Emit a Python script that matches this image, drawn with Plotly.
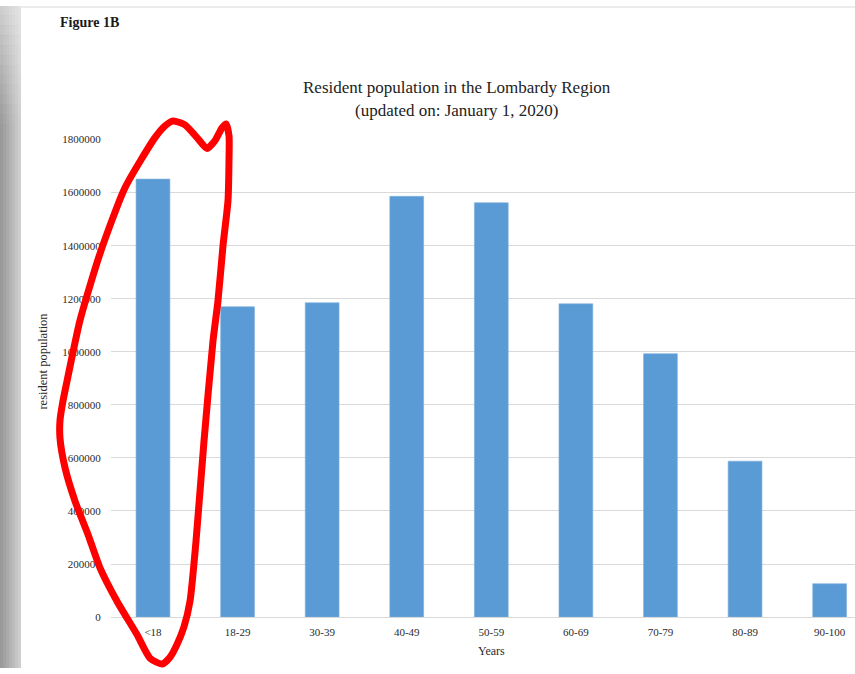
import plotly.graph_objects as go

W, H = 855, 674

# Age classes and resident population (1 January 2020)
age_classes = ["<18", "18-29", "30-39", "40-49", "50-59", "60-69", "70-79", "80-89", "90-100"]
population = [1651000, 1170000, 1185000, 1586000, 1562000, 1181000, 993000, 588000, 126000]

y_ticks = [0, 200000, 400000, 600000, 800000, 1000000, 1200000, 1400000, 1600000, 1800000]

# Hand-drawn red loop around the first bar, in page pixels
loop_x = [162, 150, 137, 117, 100, 88, 75, 65, 60, 60, 63, 67, 80, 100, 125, 155, 165, 173,
          185, 197, 207, 215, 222, 226, 229, 229, 228, 223, 218, 213, 204, 196, 190, 184, 177, 170, 162]
loop_y = [670, 664, 640, 606, 572, 538, 504, 470, 440, 422, 402, 382, 320, 252, 185, 134, 122, 117,
          121, 134, 145, 137, 124, 120, 132, 157, 198, 244, 300, 341, 443, 545, 606, 632, 650, 663, 670]

SERIF = "Liberation Serif, Times New Roman, serif"
TXT = "#2a2a2a"

# plot area in pixels
px_left, px_bottom, px_top = 110.7, 622.2, 136.0

fig = go.Figure()

fig.add_trace(go.Bar(
    x=age_classes, y=population, width=0.4,
    marker=dict(color="#5b9bd5", line=dict(color="#7eb0de", width=0.6)),
    xaxis="x", yaxis="y", showlegend=False,
))

fig.add_trace(go.Scatter(
    x=loop_x, y=loop_y, mode="lines",
    line=dict(color="#ff0000", width=7, shape="spline", smoothing=0.6),
    xaxis="x2", yaxis="y2", showlegend=False, hoverinfo="skip",
))

fig.update_layout(
    width=W, height=H, autosize=False,
    margin=dict(l=0, r=0, t=0, b=0, pad=0),
    paper_bgcolor="white",
    plot_bgcolor="rgba(0,0,0,0)",
    font=dict(family=SERIF, color=TXT),
    xaxis=dict(
        domain=[px_left / W, 1.0],
        range=[-0.5, 8.3],
        showgrid=False, zeroline=False, showline=False,
        ticks="", tickfont=dict(size=11, color=TXT, family=SERIF),
        ticklabelstandoff=7,
        anchor="y",
    ),
    yaxis=dict(
        domain=[1 - px_bottom / H, 1 - px_top / H],
        range=[0, 1800000],
        tickvals=y_ticks, ticktext=[str(v) for v in y_ticks],
        showgrid=True, gridcolor="#d9d9d9", gridwidth=1.2,
        zeroline=True, zerolinecolor="#d9d9d9", zerolinewidth=1.2,
        showline=False, ticks="",
        tickfont=dict(size=11, color=TXT, family=SERIF),
        ticklabelstandoff=9,
        anchor="x",
    ),
    xaxis2=dict(domain=[0, 1], range=[0, W], visible=False, fixedrange=True, anchor="y2"),
    yaxis2=dict(domain=[0, 1], range=[H, 0], visible=False, fixedrange=True, anchor="x2"),
)

# Grey page border (left strip and thin top band)
strip_cols = ["#9a9a9a", "#a2a2a2", "#aaaaaa", "#b3b3b3", "#bcbcbc", "#c5c5c5", "#cecece"]
sw = 21 / len(strip_cols)
for i, c in enumerate(strip_cols):
    fig.add_shape(type="rect", xref="paper", yref="paper",
                  x0=i * sw / W, x1=(i + 1) * sw / W, y0=0, y1=1,
                  fillcolor=c, line_width=0, layer="below")
# lighter toward the top of the strip
n_fade = 12
for k in range(n_fade):
    y0 = k * 10
    alpha = 0.6 * (1 - k / n_fade)
    fig.add_shape(type="rect", xref="paper", yref="paper",
                  x0=0, x1=21 / W, y0=1 - (y0 + 10) / H, y1=1 - y0 / H,
                  fillcolor=f"rgba(240,240,240,{alpha:.2f})", line_width=0, layer="below")
fig.add_shape(type="rect", xref="paper", yref="paper",
              x0=21 / W, x1=1, y0=1 - 2 / H, y1=1,
              fillcolor="#ececec", line_width=0, layer="below")

def px_ann(text, x, y, size, **kw):
    fig.add_annotation(text=text, xref="paper", yref="paper",
                       x=x / W, y=1 - y / H, showarrow=False,
                       font=dict(family=SERIF, size=size, color=kw.pop("color", "#222222")),
                       **kw)

px_ann("<b>Figure 1B</b>", 58, 16.7, 14, xanchor="left", yanchor="middle", color="#1a1a1a")
px_ann("Resident population in the Lombardy Region", 457, 83, 17, xanchor="center", yanchor="middle")
px_ann("(updated on: January 1, 2020)", 457, 106.4, 17, xanchor="center", yanchor="middle")
px_ann("Years", 491, 657, 12, xanchor="center", yanchor="middle", color=TXT)
px_ann("resident population", 43, 362, 12.5, xanchor="center", yanchor="middle",
       textangle=-90, color=TXT)

fig.write_html("out.html")
